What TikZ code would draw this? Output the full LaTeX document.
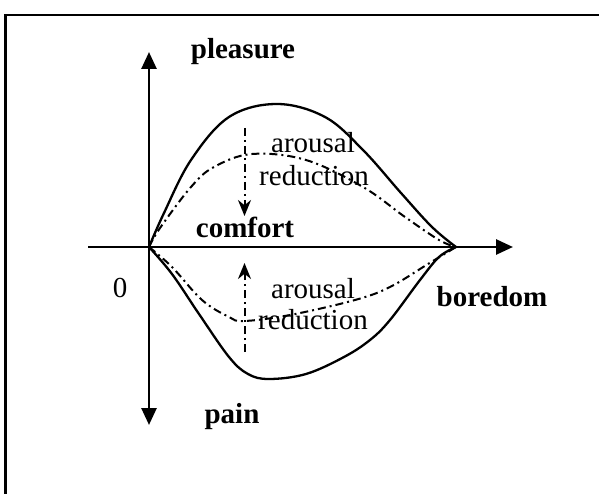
\documentclass[tikz,border=0pt]{standalone}
\usepackage{fontspec}
\setmainfont{Liberation Serif}
\usetikzlibrary{arrows.meta}
\begin{document}
\begin{tikzpicture}[x=1pt,y=-1pt,
  lbl/.style={inner sep=0pt,anchor=base,font=\fontsize{29}{30}\selectfont},
  blbl/.style={lbl,font=\fontsize{29}{30}\selectfont\bfseries},
  axisline/.style={line width=2.7pt,-{Triangle[length=17pt,width=15pt]}},
  solidcurve/.style={line width=2.3pt},
  dashdotcurve/.style={line width=2pt,dash pattern=on 8pt off 4pt on 2pt off 4pt},
  reduce/.style={line width=2pt,dash pattern=on 8pt off 4pt on 2pt off 4pt},
  reducetip/.style={line width=2pt,solid,-{Stealth[length=16pt,width=13pt]}}]
\useasboundingbox (0,0) rectangle (599,494);
% frame
\draw[line width=2.2pt] (5.5,494) -- (5.5,15) -- (599,15);
% key coordinates
\coordinate (O) at (149,247);
\coordinate (E) at (456,247);
\coordinate (ytop) at (149,52);
\coordinate (ybot) at (149,425);
\coordinate (xleft) at (88,247);
\coordinate (xright) at (513,247);
\coordinate (a1s) at (244.5,128);
\coordinate (a1m) at (244.5,205);
\coordinate (a1e) at (244.5,216);
\coordinate (a2s) at (244.5,352);
\coordinate (a2m) at (244.5,274);
\coordinate (a2e) at (244.5,263);
% axes
\draw[axisline] (O) -- (ytop);
\draw[axisline] (O) -- (ybot);
\draw[line width=2.7pt] (xleft) -- (O);
\draw[axisline] (O) -- (xright);
% upper solid curve
\draw[solidcurve] plot[smooth,tension=0.6] coordinates {(149,247) (164,213) (191,160) (229,117) (277,104) (325,117) (363,150) (401,193) (432,227) (456,247)};
% upper dash-dot curve
\draw[dashdotcurve] plot[smooth,tension=0.6] coordinates {(149,247) (160,228) (191,187) (214,167) (252,154) (306,160) (363,187) (405,217) (439,240) (456,247)};
% lower solid curve
\draw[solidcurve] plot[smooth,tension=0.6] coordinates {(149,247) (172,274) (199,314) (229,357) (248,374) (269,379) (306,374) (344,357) (370,340) (390,320) (420,280) (439,257) (456,247)};
% lower dash-dot curve
\draw[dashdotcurve] plot[smooth,tension=0.6] coordinates {(149,247) (172,267) (202,300) (229,317) (244,321) (290,315) (355,300) (390,287) (428,264) (456,247)};
% arousal reduction arrows
\draw[reduce] (a1s) -- (a1m);
\draw[reducetip] (a1m) -- (a1e);
\draw[reduce] (a2s) -- (a2m);
\draw[reducetip] (a2m) -- (a2e);
% labels
\node[blbl] (pleasure) at (243,59) {pleasure};
\node[blbl] (comfort) at (245,237) {comfort};
\node[blbl] (pain) at (232,423) {pain};
\node[blbl] (boredom) at (492,306) {boredom};
\node[lbl] (zero) at (120,297) {0};
\node[lbl] (ar1) at (313,153) {arousal};
\node[lbl] (rd1) at (314,186) {reduction};
\node[lbl] (ar2) at (313,298) {arousal};
\node[lbl] (rd2) at (313,329) {reduction};
\end{tikzpicture}
\end{document}
